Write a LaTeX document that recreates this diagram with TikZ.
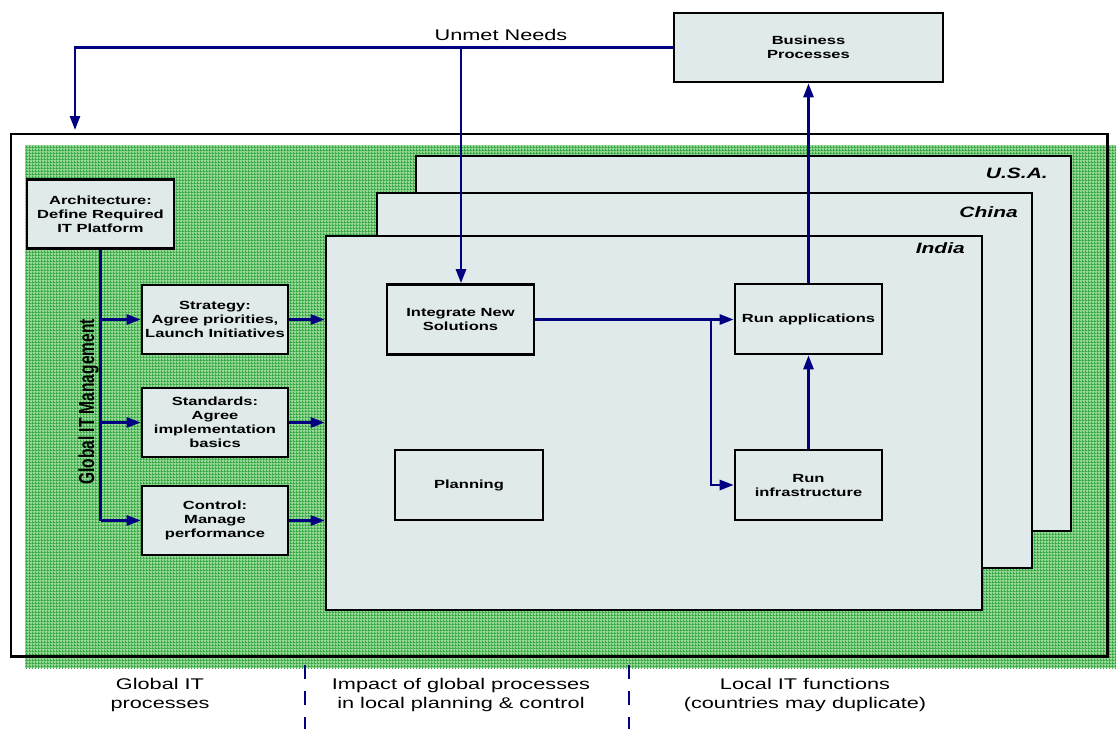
\documentclass[tikz,border=0pt]{standalone}
\usepackage{fontspec}
\setmainfont{Liberation Sans}[FakeStretch=1.4]
\newfontfamily\plainsans{Liberation Sans}
\usetikzlibrary{arrows.meta,patterns.meta}

\definecolor{navy}{RGB}{0,0,128}
\definecolor{panelfill}{RGB}{224,234,234}
\definecolor{gridlight}{RGB}{150,214,150}
\definecolor{griddark}{RGB}{52,168,64}

\newcommand\boxtext{\fontsize{11.8}{14}\selectfont\bfseries}
\newcommand\countrytext{\fontsize{15}{18}\selectfont\bfseries\itshape}
\newcommand\captiontext{\fontsize{15.5}{18.5}\selectfont}

% fine green mesh used for the global area
\tikzdeclarepattern{
  name=fieldgrid,
  type=uncolored,
  bottom left={(-0.5pt,-0.5pt)},
  top right={(2.5pt,2.5pt)},
  tile size={(3pt,3pt)},
  code={
    \draw[line width=1pt] (-0.5pt,0pt) -- (2.5pt,0pt) (0pt,-0.5pt) -- (0pt,2.5pt);
  }
}

\begin{document}
\begin{tikzpicture}[x=1pt,y=-1pt,
  box/.style={draw=black, line width=2.6pt, fill=panelfill, align=center,
    font=\boxtext, inner sep=0pt},
  panel/.style={draw=black, line width=2.6pt, fill=panelfill, inner sep=0pt},
  link/.style={draw=navy, line width=2.6pt},
  flow/.style={link, -{Triangle[length=14pt,width=10pt]}},
  country/.style={font=\countrytext, anchor=east, inner sep=0pt},
  caption/.style={font=\captiontext, align=center},
  divider/.style={draw=navy, line width=2.4pt, dash pattern=on 14pt off 12pt}]

\useasboundingbox (0,0) rectangle (1117,729);

% outer frame and the green global area
\node[draw=none, fill=white, minimum width=1096pt, minimum height=522pt, inner sep=0pt]
  (outer) at (559,395) {};
\fill[gridlight] (25,145) rectangle (1116,668);
\fill[pattern=fieldgrid, pattern color=griddark] (25,145) rectangle (1116,668);
\draw[black, line width=2.6pt] (outer.north west) rectangle (outer.south east);

% country panels
\node[panel, minimum width=655pt, minimum height=375pt] (usa) at (743.5,343.5) {};
\node[panel, minimum width=655pt, minimum height=375pt] (china) at (704.5,380.5) {};
\node[panel, minimum width=656pt, minimum height=374pt] (india) at (654,423) {};
\node[country] (usalbl) at (1048,173) {U.S.A.};
\node[country] (chinalbl) at (1018,212) {China};
\node[country] (indialbl) at (965,248) {India};

% process boxes
\node[box, minimum width=269pt, minimum height=69pt] (biz) at (808.5,47.5) {Business\\Processes};
\node[box, minimum width=147pt, minimum height=69pt] (arch) at (100.5,214) {Architecture:\\Define Required\\IT Platform};
\node[box, minimum width=146pt, minimum height=69pt] (strat) at (215,319.5) {Strategy:\\Agree priorities,\\Launch Initiatives};
\node[box, minimum width=146pt, minimum height=69pt] (stand) at (215,422.5) {Standards:\\Agree\\implementation\\basics};
\node[box, minimum width=146pt, minimum height=69pt] (ctrl) at (215,520.5) {Control:\\Manage\\performance};
\node[box, minimum width=147pt, minimum height=70pt] (integ) at (460.5,319.5) {Integrate New\\Solutions};
\node[box, minimum width=148pt, minimum height=70pt] (plan) at (469,485) {Planning};
\node[box, minimum width=147pt, minimum height=70pt] (runapp) at (808.5,319) {Run applications};
\node[box, minimum width=147pt, minimum height=70pt] (runinf) at (808.5,485) {Run\\infrastructure};

\node[rotate=90, inner sep=0pt] (gitm) at (88.5,402)
  {\plainsans\bfseries\fontsize{15.5}{18}\selectfont\scalebox{1}[1.4]{Global IT Management}};

% global management trunk
\draw[link] (arch.south) -- (arch.south |- ctrl.west);
\draw[flow] (arch.south |- strat.west) -- (strat.west);
\draw[flow] (arch.south |- stand.west) -- (stand.west);
\draw[flow] (arch.south |- ctrl.west) -- (ctrl.west);
\draw[flow] (strat.east) -- (strat.east -| india.west);
\draw[flow] (stand.east) -- (stand.east -| india.west);
\draw[flow] (ctrl.east) -- (ctrl.east -| india.west);

% unmet needs feedback
\coordinate (needsend) at (75,130);
\coordinate (needsdrop) at (461,48);
\draw[flow] (biz.west) -| (needsend);
\draw[flow] (needsdrop) -- (needsdrop |- integ.north);
\node[font=\captiontext] (needs) at (501,35) {Unmet Needs};

% local flows
\coordinate (split) at (711,0);
\draw[flow] (integ.east) -- (integ.east -| runapp.west);
\draw[flow] (split |- integ.east) |- (runinf.west);
\draw[flow] (runinf.north) -- (runapp.south);
\draw[flow] (runapp.north) -- (biz.south);

% section dividers and captions
\coordinate (divAtop) at (305,665);
\coordinate (divAbot) at (305,729);
\coordinate (divBtop) at (629,665);
\coordinate (divBbot) at (629,729);
\draw[divider] (divAtop) -- (divAbot);
\draw[divider] (divBtop) -- (divBbot);
\node[caption] (capglobal) at (160,695) {Global IT\\processes};
\node[caption] (capimpact) at (461,695) {Impact of global processes\\in local planning \& control};
\node[caption] (caplocal) at (805,695) {Local IT functions\\(countries may duplicate)};

\end{tikzpicture}
\end{document}
